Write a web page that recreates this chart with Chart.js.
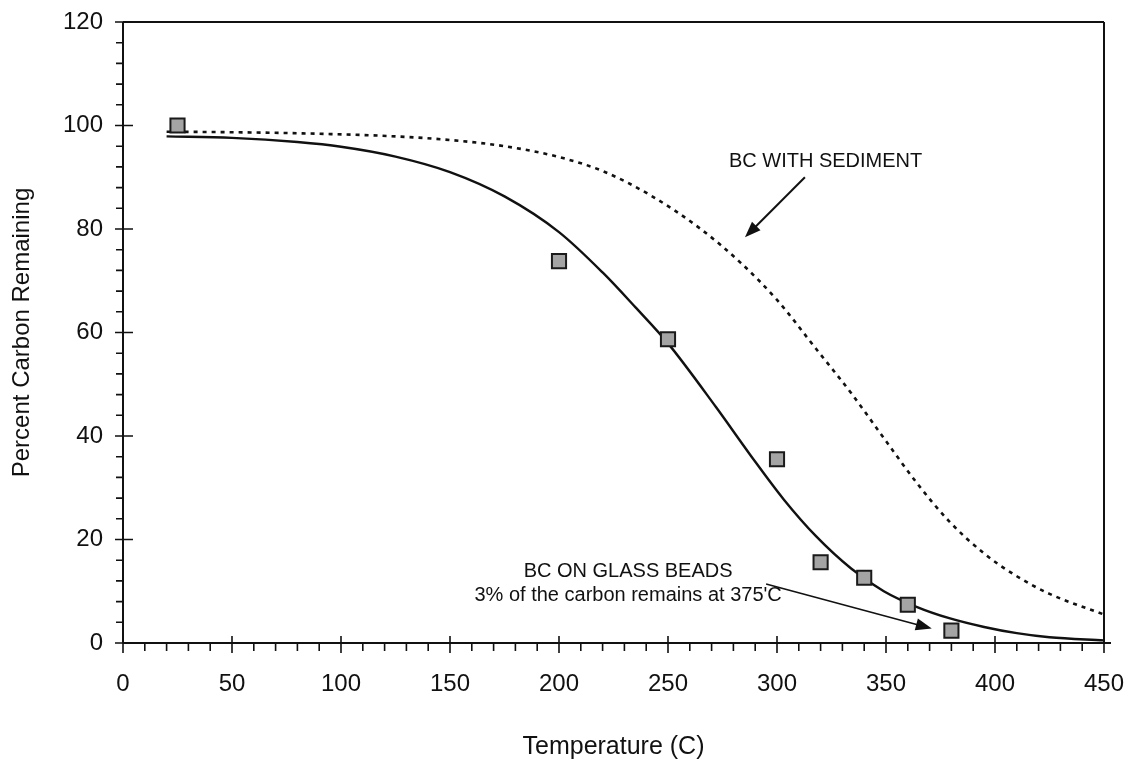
<!DOCTYPE html>
<html>
<head>
<meta charset="utf-8">
<script src="https://cdn.jsdelivr.net/npm/chart.js@4"></script>
<style>
  html, body { margin: 0; padding: 0; background: #fff; }
  #wrap { width: 1130px; height: 763px; }
</style>
</head>
<body>
<div id="wrap"><canvas id="chart"></canvas></div>
<script>
// fitted curve, BC on glass beads (solid)
const glassX = [20, 50, 80, 100, 125, 150, 175, 200, 220, 235, 250, 272, 288, 303, 318, 334, 349, 364, 379, 395, 410, 425, 450];
const glassY = [97.9, 97.6, 96.8, 95.9, 94.0, 91.0, 86.3, 79.4, 71.6, 64.9, 57.9, 45.6, 36.2, 27.8, 20.6, 14.4, 10.0, 7.0, 4.8, 3.1, 1.9, 1.1, 0.5];
// fitted curve, BC with sediment (dotted)
const sedX = [20, 50, 80, 125, 150, 175, 200, 220, 242, 265, 283, 300, 318, 334, 349, 364, 379, 395, 410, 425, 450];
const sedY = [98.8, 98.7, 98.5, 97.9, 97.2, 96.0, 93.9, 91.2, 86.5, 80.0, 73.6, 66.3, 56.8, 48.3, 39.6, 31.0, 23.5, 17.3, 12.9, 9.5, 5.5];
// measured points
const measX = [25, 200, 250, 300, 320, 340, 360, 380];
const measY = [100, 73.8, 58.7, 35.5, 15.6, 12.6, 7.4, 2.4];

const xTicks = [0, 50, 100, 150, 200, 250, 300, 350, 400, 450];
const yTicks = [0, 20, 40, 60, 80, 100, 120];

// annotations, in data units
const sedLabel = { text: "BC WITH SEDIMENT", x: 322.3, y: 93.1 };
const sedArrow = { from: [312.8, 90.0], to: [285.3, 78.4] };
const glassLabel = [
  { text: "BC ON GLASS BEADS", x: 231.7, y: 13.9 },
  { text: "3% of the carbon remains at 375'C", x: 231.7, y: 9.1 },
];
const glassArrow = { from: [295, 11.4], to: [371, 2.8] };

const FONT = "'Liberation Sans', Arial, Helvetica, sans-serif";
const INK = "#111";

const toPoints = (xs, ys) => xs.map((x, i) => ({ x, y: ys[i] }));

function arrow(ctx, x1, y1, x2, y2, width) {
  const ang = Math.atan2(y2 - y1, x2 - x1);
  const len = 16, half = 6;
  ctx.strokeStyle = INK;
  ctx.fillStyle = INK;
  ctx.lineWidth = width;
  ctx.beginPath();
  ctx.moveTo(x1, y1);
  ctx.lineTo(x2 - Math.cos(ang) * len * 0.8, y2 - Math.sin(ang) * len * 0.8);
  ctx.stroke();
  ctx.beginPath();
  ctx.moveTo(x2, y2);
  ctx.lineTo(x2 - Math.cos(ang) * len + Math.sin(ang) * half, y2 - Math.sin(ang) * len - Math.cos(ang) * half);
  ctx.lineTo(x2 - Math.cos(ang) * len - Math.sin(ang) * half, y2 - Math.sin(ang) * len + Math.cos(ang) * half);
  ctx.closePath();
  ctx.fill();
}

// no auto padding from the edge labels, so the plot box lands where the original is
const fixedBox = (size) => (s) => {
  if (s.isHorizontal()) s.height = size; else s.width = size;
  s.paddingTop = s.paddingBottom = s.paddingLeft = s.paddingRight = 0;
};

const frame = {
  id: "frame",
  beforeDatasetsDraw(chart) {
    const { ctx, chartArea: a, scales: { x, y } } = chart;
    ctx.save();
    ctx.strokeStyle = INK;
    ctx.lineWidth = 2;
    ctx.beginPath();
    ctx.moveTo(a.left, a.top); ctx.lineTo(a.left, a.bottom);
    ctx.moveTo(a.left, a.bottom); ctx.lineTo(a.right + 7, a.bottom);
    ctx.moveTo(a.left, a.top); ctx.lineTo(a.right, a.top);
    ctx.moveTo(a.right, a.top); ctx.lineTo(a.right, a.bottom);
    ctx.stroke();

    ctx.lineWidth = 1.6;
    ctx.beginPath();
    for (let v = 0; v <= 450; v += 10) {
      const px = x.getPixelForValue(v);
      if (v % 50 === 0) { ctx.moveTo(px, a.bottom - 7); ctx.lineTo(px, a.bottom + 10); }
      else { ctx.moveTo(px, a.bottom); ctx.lineTo(px, a.bottom + 8); }
    }
    for (let v = 0; v <= 120; v += 4) {
      const py = y.getPixelForValue(v);
      if (v % 20 === 0) { ctx.moveTo(a.left - 8, py); ctx.lineTo(a.left + 10, py); }
      else { ctx.moveTo(a.left - 7, py); ctx.lineTo(a.left, py); }
    }
    ctx.stroke();
    ctx.restore();
  },
  afterDatasetsDraw(chart) {
    const { ctx, scales: { x, y } } = chart;
    const px = (p) => [x.getPixelForValue(p[0]), y.getPixelForValue(p[1])];
    ctx.save();
    ctx.font = `20px ${FONT}`;
    ctx.fillStyle = INK;
    ctx.textAlign = "center";
    ctx.textBaseline = "middle";
    ctx.fillText(sedLabel.text, x.getPixelForValue(sedLabel.x), y.getPixelForValue(sedLabel.y));
    glassLabel.forEach((l) => ctx.fillText(l.text, x.getPixelForValue(l.x), y.getPixelForValue(l.y)));
    arrow(ctx, ...px(sedArrow.from), ...px(sedArrow.to), 2);
    arrow(ctx, ...px(glassArrow.from), ...px(glassArrow.to), 1.6);
    ctx.restore();
  },
};

new Chart(document.getElementById("chart"), {
  type: "line",
  data: {
    datasets: [
      {
        label: "BC on glass beads",
        data: toPoints(glassX, glassY),
        borderColor: INK,
        borderWidth: 2.4,
        pointRadius: 0,
        cubicInterpolationMode: "monotone",
        order: 2,
      },
      {
        label: "BC with sediment",
        data: toPoints(sedX, sedY),
        borderColor: INK,
        borderWidth: 2.6,
        borderDash: [4, 5],
        pointRadius: 0,
        cubicInterpolationMode: "monotone",
        order: 3,
      },
      {
        type: "scatter",
        label: "measured",
        data: toPoints(measX, measY),
        pointStyle: "rect",
        pointRadius: 10,
        pointBackgroundColor: "#a4a4a4",
        pointBorderColor: "#1a1a1a",
        pointBorderWidth: 2,
        showLine: false,
        order: 1,
      },
    ],
  },
  options: {
    responsive: true,
    maintainAspectRatio: false,
    animation: false,
    layout: { padding: { left: 0, right: 26, top: 22, bottom: 0 } },
    plugins: { legend: { display: false }, tooltip: { enabled: false } },
    scales: {
      x: {
        type: "linear",
        min: 0,
        max: 450,
        afterBuildTicks: (s) => { s.ticks = xTicks.map((value) => ({ value })); },
        afterFit: fixedBox(120),
        grid: { display: false, drawTicks: false },
        border: { display: false },
        ticks: { color: INK, padding: 27, maxRotation: 0, font: { family: FONT, size: 24 } },
        title: { display: true, text: "Temperature (C)", color: INK, font: { family: FONT, size: 25 }, padding: { top: 0, bottom: 1 } },
      },
      y: {
        type: "linear",
        min: 0,
        max: 120,
        afterBuildTicks: (s) => { s.ticks = yTicks.map((value) => ({ value })); },
        afterFit: fixedBox(123),
        grid: { display: false, drawTicks: false },
        border: { display: false },
        ticks: { color: INK, padding: 20, font: { family: FONT, size: 24 } },
        title: { display: true, text: "Percent Carbon Remaining", color: INK, font: { family: FONT, size: 24 }, padding: { top: 8, bottom: 0 } },
      },
    },
  },
  plugins: [frame],
});
</script>
</body>
</html>
